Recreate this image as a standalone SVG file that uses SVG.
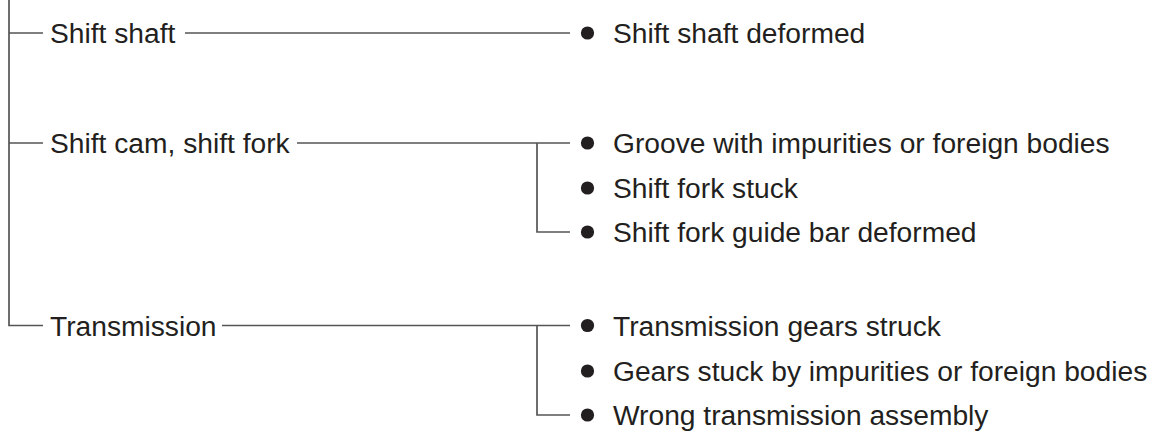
<svg xmlns="http://www.w3.org/2000/svg" width="1158" height="432" viewBox="0 0 1158 432">
<style>
.t{font-family:"Liberation Sans",Arial,sans-serif;font-size:28.2px;fill:#231f20}
.c{stroke:#555;stroke-width:1.7;fill:none}
.b{fill:#231f20}
</style>
<rect width="1158" height="432" fill="#fff"/>
<g id="connectors">
<path class="c" d="M9,0 V325.5 H43"/>
<path class="c" d="M9,33 H43"/>
<path class="c" d="M9,143 H43"/>
<path class="c" d="M185,33 H570"/>
<path class="c" d="M297,143 H570"/>
<path class="c" d="M537,143 V232 H570"/>
<path class="c" d="M222,325.5 H570"/>
<path class="c" d="M537,325.5 V415 H570"/>
</g>
<g id="shift-shaft"><text class="t" x="50" y="43">Shift shaft</text></g>
<g id="shift-cam"><text class="t" x="50" y="153">Shift cam, shift fork</text></g>
<g id="transmission"><text class="t" x="50" y="335.5">Transmission</text></g>
<g id="shift-shaft-deformed"><circle class="b" cx="587.5" cy="33" r="6.6"/><text class="t" x="613" y="43">Shift shaft deformed</text></g>
<g id="groove"><circle class="b" cx="587.5" cy="143" r="6.6"/><text class="t" x="613" y="153">Groove with impurities or foreign bodies</text></g>
<g id="fork-stuck"><circle class="b" cx="587.5" cy="188" r="6.6"/><text class="t" x="613" y="198">Shift fork stuck</text></g>
<g id="guide-bar"><circle class="b" cx="587.5" cy="232" r="6.6"/><text class="t" x="613" y="242">Shift fork guide bar deformed</text></g>
<g id="gears-struck"><circle class="b" cx="587.5" cy="325.5" r="6.6"/><text class="t" x="613" y="335.5">Transmission gears struck</text></g>
<g id="gears-stuck"><circle class="b" cx="587.5" cy="371" r="6.6"/><text class="t" x="613" y="381">Gears stuck by impurities or foreign bodies</text></g>
<g id="wrong-assembly"><circle class="b" cx="587.5" cy="415" r="6.6"/><text class="t" x="613" y="425">Wrong transmission assembly</text></g>
</svg>
